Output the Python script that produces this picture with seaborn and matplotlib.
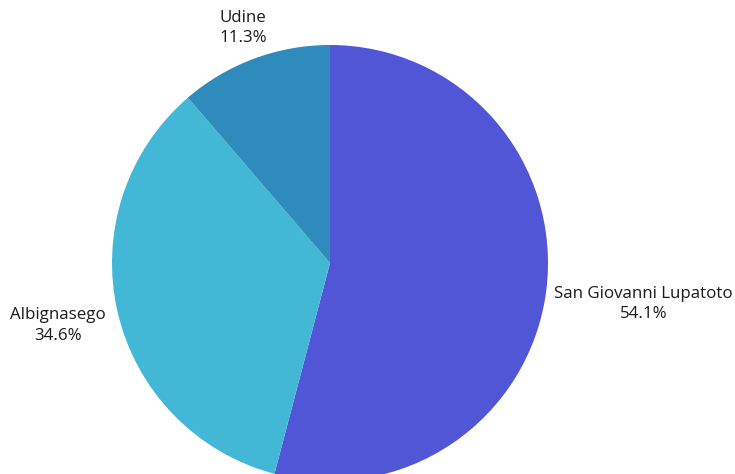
import numpy as np
import seaborn as sns
import matplotlib
matplotlib.use('Agg')
import matplotlib.pyplot as plt

cities = ['San Giovanni Lupatoto', 'Albignasego', 'Udine']
shares = [54.1, 34.6, 11.3]
colors = ['#5056d5', '#43b8d6', '#2e8bbb']
label_dist = [1.45, 1.28, 1.15]

sns.set_theme(style='white')
plt.rcParams['font.family'] = ['Open Sans', 'DejaVu Sans']

fig = plt.figure(figsize=(7.35, 4.74), dpi=100)
W, H = 735, 474
cx, cy, r = 330, 263, 218
ax = fig.add_axes([(cx - r) / W, (H - cy - r) / H, 2 * r / W, 2 * r / H])

wedges, _ = ax.pie(shares, colors=colors, startangle=90, counterclock=False,
                   radius=1, wedgeprops={'linewidth': 0})
ax.set_xlim(-1, 1)
ax.set_ylim(-1, 1)
ax.set_aspect('equal')
ax.axis('off')

for w, name, pct, d in zip(wedges, cities, shares, label_dist):
    ang = np.deg2rad((w.theta1 + w.theta2) / 2)
    ax.text(d * np.cos(ang), d * np.sin(ang), f'{name}\n{pct:.1f}%',
            ha='center', va='center', fontsize=12.2, color='#1a1a1a',
            linespacing=1.35, clip_on=False)

fig.savefig('out.png', dpi=100)
